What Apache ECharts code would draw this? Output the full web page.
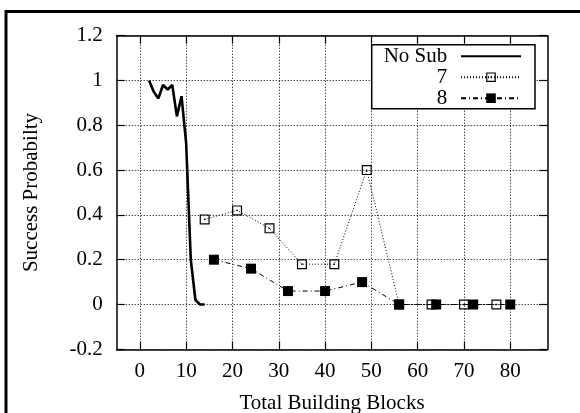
<!DOCTYPE html>
<html>
<head>
<meta charset="utf-8">
<script src="https://cdn.jsdelivr.net/npm/echarts@6/dist/echarts.min.js"></script>
<style>
html,body{margin:0;padding:0;background:#fff;}
#chart{width:580px;height:413px;}
</style>
</head>
<body>
<div id="chart"></div>
<script>
// ---- data ----
const noSubX = [2, 3, 4, 5, 6, 7, 8, 9, 10, 11, 12, 13, 14];
const noSubY = [1.0, 0.95, 0.92, 0.98, 0.96, 0.98, 0.84, 0.93, 0.72, 0.2, 0.02, 0.0, 0.0];
const s7X = [14, 21, 28, 35, 42, 49, 56, 63, 70, 77];
const s7Y = [0.38, 0.42, 0.34, 0.18, 0.18, 0.6, 0, 0, 0, 0];
const s8X = [16, 24, 32, 40, 48, 56, 64, 72, 80];
const s8Y = [0.2, 0.16, 0.06, 0.06, 0.1, 0, 0, 0, 0];
const xTicks = [0, 10, 20, 30, 40, 50, 60, 70, 80];
const seriesNames = ['No Sub', '7', '8'];
const xTitle = 'Total Building Blocks';
const yTitle = 'Success Probabilty';

const pairs = (xs, ys) => xs.map((x, i) => [x, ys[i]]);
const FONT = "'Liberation Serif', 'Times New Roman', serif";
const boxSym = 'path://M0,0H10V10H0Z M1.2,1.2V8.8H8.8V1.2Z M4.3,4.3H5.7V5.7H4.3Z';

const chart = echarts.init(document.getElementById('chart'), null, {renderer: 'canvas'});
const axisLine = {show: true, onZero: false, lineStyle: {color: '#000', width: 1.5}};
const grid = {type: [1, 2], color: '#000', width: 1};
const tick = {show: true, inside: true, length: 8, lineStyle: {color: '#000', width: 1.2}};

chart.setOption({
  animation: false,
  backgroundColor: '#fff',
  textStyle: {fontFamily: FONT},
  graphic: [{
    type: 'rect', silent: true, z: -10,
    shape: {x: 6, y: 11.5, width: 700, height: 500},
    style: {fill: 'none', stroke: '#000', lineWidth: 3}
  }],
  grid: {left: 116.7, right: 32.7, top: 35.7, bottom: 63.7, containLabel: false, outerBoundsMode: 'none'},
  legend: {
    orient: 'vertical', right: 45, top: 44.7, align: 'right',
    itemWidth: 60, itemHeight: 12, itemGap: 0,
    padding: [1, 13, 0, 12],
    borderColor: '#000', borderWidth: 1.5, backgroundColor: '#fff',
    textStyle: {fontFamily: FONT, fontSize: 21, lineHeight: 21, color: '#000', padding: [0, 8.7, 0, 0]},
    data: [
      {name: seriesNames[0], itemStyle: {opacity: 0}},
      {name: seriesNames[1]},
      {name: seriesNames[2]}
    ]
  },
  xAxis: [{
    type: 'value', min: -5, max: 88, position: 'bottom',
    axisLine: axisLine,
    axisTick: Object.assign({customValues: xTicks}, tick),
    axisLabel: {customValues: xTicks, fontFamily: FONT, fontSize: 21, color: '#000', margin: 12},
    splitLine: {show: true, lineStyle: grid},
    name: xTitle, nameLocation: 'middle', nameGap: 44,
    nameTextStyle: {fontFamily: FONT, fontSize: 21, color: '#000'}
  }, {
    type: 'value', min: -5, max: 88, position: 'top',
    axisLine: axisLine,
    axisTick: Object.assign({customValues: xTicks}, tick),
    axisLabel: {show: false},
    splitLine: {show: false}
  }],
  yAxis: [{
    type: 'value', min: -0.2, max: 1.2, interval: 0.2, position: 'left',
    axisLine: axisLine,
    axisTick: tick,
    axisLabel: {fontFamily: FONT, fontSize: 21, color: '#000', margin: 14},
    splitLine: {show: true, lineStyle: grid},
    name: yTitle, nameLocation: 'middle', nameGap: 75, nameRotate: 90,
    nameTextStyle: {fontFamily: FONT, fontSize: 21, color: '#000'}
  }, {
    type: 'value', min: -0.2, max: 1.2, interval: 0.2, position: 'right',
    axisLine: axisLine,
    axisTick: tick,
    axisLabel: {show: false},
    splitLine: {show: false}
  }],
  series: [{
    name: seriesNames[0], type: 'line', data: pairs(noSubX, noSubY),
    symbol: 'none', symbolSize: 0, showSymbol: false,
    lineStyle: {color: '#000', width: 2.6, type: 'solid'},
    itemStyle: {color: '#000'}, z: 5
  }, {
    name: seriesNames[1], type: 'line', data: pairs(s7X, s7Y),
    symbol: boxSym, symbolSize: 10,
    lineStyle: {color: '#000', width: 1, type: [1, 2]},
    itemStyle: {color: '#000', borderWidth: 0}, z: 4
  }, {
    name: seriesNames[2], type: 'line', data: pairs(s8X, s8Y),
    symbol: 'rect', symbolSize: 10,
    lineStyle: {color: '#000', width: 1, type: [5, 3, 1, 3]},
    itemStyle: {color: '#000', borderWidth: 0}, z: 3
  }]
});
</script>
</body>
</html>
